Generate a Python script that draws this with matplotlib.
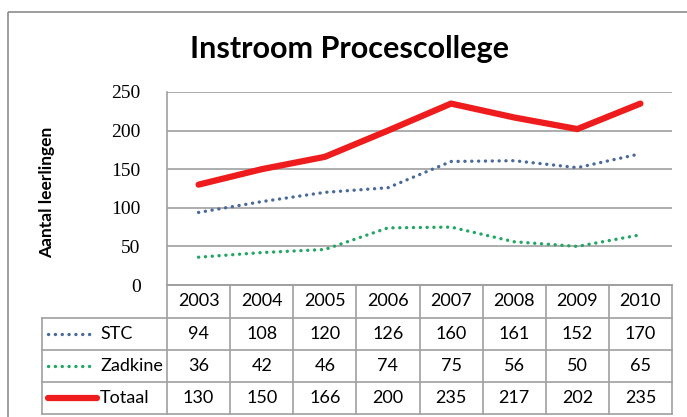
import matplotlib
matplotlib.use("Agg")
import matplotlib.pyplot as plt
from matplotlib.lines import Line2D
from matplotlib.patches import Rectangle

years = ["2003", "2004", "2005", "2006", "2007", "2008", "2009", "2010"]
stc = [94, 108, 120, 126, 160, 161, 152, 170]
zadkine = [36, 42, 46, 74, 75, 56, 50, 65]
totaal = [130, 150, 166, 200, 235, 217, 202, 235]
series_names = ["STC", "Zadkine", "Totaal"]
yticks = [0, 50, 100, 150, 200, 250]

W, H = 687, 417
sans = ["Lato", "DejaVu Sans"]
serif = ["Liberation Serif", "DejaVu Serif"]

fig = plt.figure(figsize=(W / 100, H / 100), dpi=100)

# plot area in pixels
px0, px1, py_top, py_bot = 167, 672, 92, 285
ax = fig.add_axes([px0 / W, (H - py_bot) / H, (px1 - px0) / W, (py_bot - py_top) / H])

styles = [
    dict(color="#4a6a9c", lw=2.4, ls=(0, (0.05, 2.0)), dash_capstyle="round"),
    dict(color="#22a664", lw=2.4, ls=(0, (0.05, 2.0)), dash_capstyle="round"),
    dict(color="#ee1c1c", lw=4.5, ls="-", solid_capstyle="round"),
]
x = list(range(len(years)))
for vals, st in zip([stc, zadkine, totaal], styles):
    ax.plot(x, vals, **st)

gc = "#a0a0a0"
ax.set_xlim(-0.5, len(years) - 0.5)
ax.set_ylim(0, 250)
ax.set_yticks(yticks)
ax.set_yticklabels([str(t) for t in yticks], family=serif, fontsize=14)
ax.set_xticks([])
ax.tick_params(axis="y", length=0, pad=19)
for s in ["top", "right"]:
    ax.spines[s].set_visible(False)
for s in ["bottom", "left"]:
    ax.spines[s].set_color(gc)
    ax.spines[s].set_linewidth(1.2)
ax.grid(axis="y", color=gc, lw=1.2)
ax.set_axisbelow(True)

# overlay in pixel coordinates for frame, title and data table
ov = fig.add_axes([0, 0, 1, 1], facecolor="none")
ov.set_xlim(0, W)
ov.set_ylim(H, 0)
ov.axis("off")

ov.add_patch(Rectangle((8, 12), W + 20, H + 20, fill=False, ec="#8c8c8c", lw=1.2))
ov.text(350, 49, "Instroom Procescollege", ha="center", va="center",
        family=sans, fontsize=22, fontweight="bold")
ov.text(47, 192, "Aantal leerlingen", rotation=90, ha="center", va="center",
        family=sans, fontsize=12.5, fontweight="bold")

# table
tleft = 42
col_w = (px1 - px0) / len(years)
row_y = [285, 318, 350, 382, 414]
ov.plot([px0, px1], [row_y[0]] * 2, color=gc, lw=1.2)
for yy in row_y[1:]:
    ov.plot([tleft, px1], [yy] * 2, color=gc, lw=1.2)
ov.plot([tleft, tleft], [row_y[1], row_y[-1]], color=gc, lw=1.2)
for i in range(len(years) + 1):
    xx = px0 + i * col_w
    ov.plot([xx, xx], [row_y[0], row_y[-1]], color=gc, lw=1.2)

for i, yr in enumerate(years):
    ov.text(px0 + (i + 0.5) * col_w, (row_y[0] + row_y[1]) / 2, yr,
            ha="center", va="center", family=sans, fontsize=13)

key_end = [90, 90, 97]
for r, (name, vals, st) in enumerate(zip(series_names, [stc, zadkine, totaal], styles)):
    yc = (row_y[r + 1] + row_y[r + 2]) / 2
    ov.add_line(Line2D([48, key_end[r]], [yc, yc], **st))
    ov.text(100, yc, name, ha="left", va="center", family=sans, fontsize=13)
    for i, v in enumerate(vals):
        ov.text(px0 + (i + 0.5) * col_w, yc, str(v), ha="center", va="center",
                family=sans, fontsize=13)

fig.savefig("out.png", dpi=100)
